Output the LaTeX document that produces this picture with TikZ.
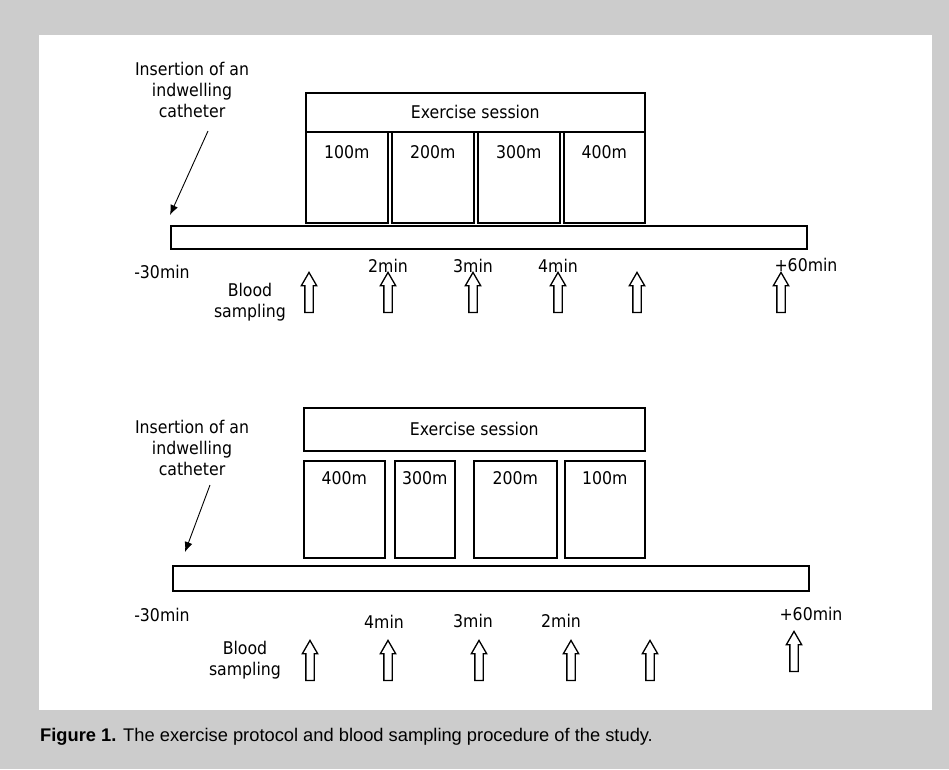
\documentclass[tikz,border=0pt]{standalone}
\usepackage{fontspec}
\setmainfont[FakeStretch=0.9]{DejaVu Sans}
\newfontfamily\captionfont{Liberation Sans}
\usetikzlibrary{shapes.arrows,arrows.meta}
\definecolor{framegray}{HTML}{CCCCCC}
\newcommand{\LabelDrop}{21}
\tikzset{/protocol/box/.style={
	shape=rectangle, draw, line width=1.6pt, inner sep=0pt, anchor=north west
}}
\tikzset{/protocol/bar/.style={
	shape=rectangle, draw, line width=1.9pt, inner sep=0pt, anchor=north west, minimum width=636pt
}}
\tikzset{/protocol/text/.style={align=center, inner sep=0pt, font=\fontsize{17.5}{21}\selectfont}}
\tikzset{/protocol/sample/.style={
	single arrow, draw, line width=1.3pt, rotate=90, minimum height=40pt, inner sep=0pt, inner ysep=3.5pt, single arrow head extend=3.5pt, single arrow tip angle=60
}}
\tikzset{/protocol/pointer/.style={-{Latex[length=10pt,width=8pt]}, line width=0.9pt}}

\begin{document}
\begin{tikzpicture}[x=1pt, y=-1pt]
			\fill[framegray] (0,0) rectangle (949,769);
			\fill[white] (39,35) rectangle (932,710);
			% first protocol: ascending distances
			\path node[/protocol/text] (insA) at (192,90) {Insertion of an\\indwelling\\catheter};
			\coordinate (insA tail) at (208,131);
			\coordinate (insA tip) at (170,215);
			\draw[/protocol/pointer] (insA tail) -- (insA tip);
			\path node[/protocol/box, /protocol/text, minimum width=339pt, minimum height=39pt] (exA) at (305,92) {Exercise session};
			\path node[/protocol/box, minimum width=82pt, minimum height=91pt] (segA1) at (305,131) {};
			\path node[/protocol/box, minimum width=82pt, minimum height=91pt] (segA2) at (391,131) {};
			\path node[/protocol/box, minimum width=82pt, minimum height=91pt] (segA3) at (477,131) {};
			\path node[/protocol/box, minimum width=81pt, minimum height=91pt] (segA4) at (563,131) {};
			\path (segA1.north) ++ (0,\LabelDrop) node[/protocol/text] (lblA1) {100m};
			\path (segA2.north) ++ (0,\LabelDrop) node[/protocol/text] (lblA2) {200m};
			\path (segA3.north) ++ (0,\LabelDrop) node[/protocol/text] (lblA3) {300m};
			\path (segA4.north) ++ (0,\LabelDrop) node[/protocol/text] (lblA4) {400m};
			\path node[/protocol/bar, minimum height=23pt] (barA) at (170,225) {};
			\path node[/protocol/text] (tA0) at (162,272) {-30min};
			\path node[/protocol/text] (tA1) at (388,266) {2min};
			\path node[/protocol/text] (tA2) at (473,266) {3min};
			\path node[/protocol/text] (tA3) at (558,266) {4min};
			\path node[/protocol/text] (tA4) at (806,265) {+60min};
			\path node[/protocol/text] (bloodA) at (250,302) {Blood\\sampling};
			\path node[/protocol/sample] (sA1) at (309,296) {};
			\path node[/protocol/sample] (sA2) at (388,296) {};
			\path node[/protocol/sample] (sA3) at (473,296) {};
			\path node[/protocol/sample] (sA4) at (558,296) {};
			\path node[/protocol/sample] (sA5) at (637,296) {};
			\path node[/protocol/sample] (sA6) at (781,296) {};
			% second protocol: descending distances
			\path node[/protocol/text] (insB) at (192,448) {Insertion of an\\indwelling\\catheter};
			\coordinate (insB tail) at (210,485);
			\coordinate (insB tip) at (185,552);
			\draw[/protocol/pointer] (insB tail) -- (insB tip);
			\path node[/protocol/box, /protocol/text, minimum width=341pt, minimum height=43pt] (exB) at (303,407) {Exercise session};
			\path node[/protocol/box, minimum width=81pt, minimum height=97pt] (segB1) at (303,460) {};
			\path node[/protocol/box, minimum width=60pt, minimum height=97pt] (segB2) at (394,460) {};
			\path node[/protocol/box, minimum width=83pt, minimum height=97pt] (segB3) at (473,460) {};
			\path node[/protocol/box, minimum width=80pt, minimum height=97pt] (segB4) at (564,460) {};
			\path (segB1.north) ++ (0,18) node[/protocol/text] (lblB1) {400m};
			\path (segB2.north) ++ (0,18) node[/protocol/text] (lblB2) {300m};
			\path (segB3.north) ++ (0,18) node[/protocol/text] (lblB3) {200m};
			\path (segB4.north) ++ (0,18) node[/protocol/text] (lblB4) {100m};
			\path node[/protocol/bar, minimum height=25pt] (barB) at (172,565) {};
			\path node[/protocol/text] (tB0) at (162,615) {-30min};
			\path node[/protocol/text] (tB1) at (384,622) {4min};
			\path node[/protocol/text] (tB2) at (473,621) {3min};
			\path node[/protocol/text] (tB3) at (561,621) {2min};
			\path node[/protocol/text] (tB4) at (811,614) {+60min};
			\path node[/protocol/text] (bloodB) at (245,660) {Blood\\sampling};
			\path node[/protocol/sample] (sB1) at (310,664) {};
			\path node[/protocol/sample] (sB2) at (388,664) {};
			\path node[/protocol/sample] (sB3) at (479,664) {};
			\path node[/protocol/sample] (sB4) at (571,664) {};
			\path node[/protocol/sample] (sB5) at (650,664) {};
			\path node[/protocol/sample] (sB6) at (794,655) {};
			\path node[anchor=base west, inner sep=0pt, font=\captionfont\fontsize{18.3}{21}\selectfont] (caption) at (40,741) {\textbf{Figure 1.} The exercise protocol and blood sampling procedure of the study.};
		\end{tikzpicture}
\end{document}
